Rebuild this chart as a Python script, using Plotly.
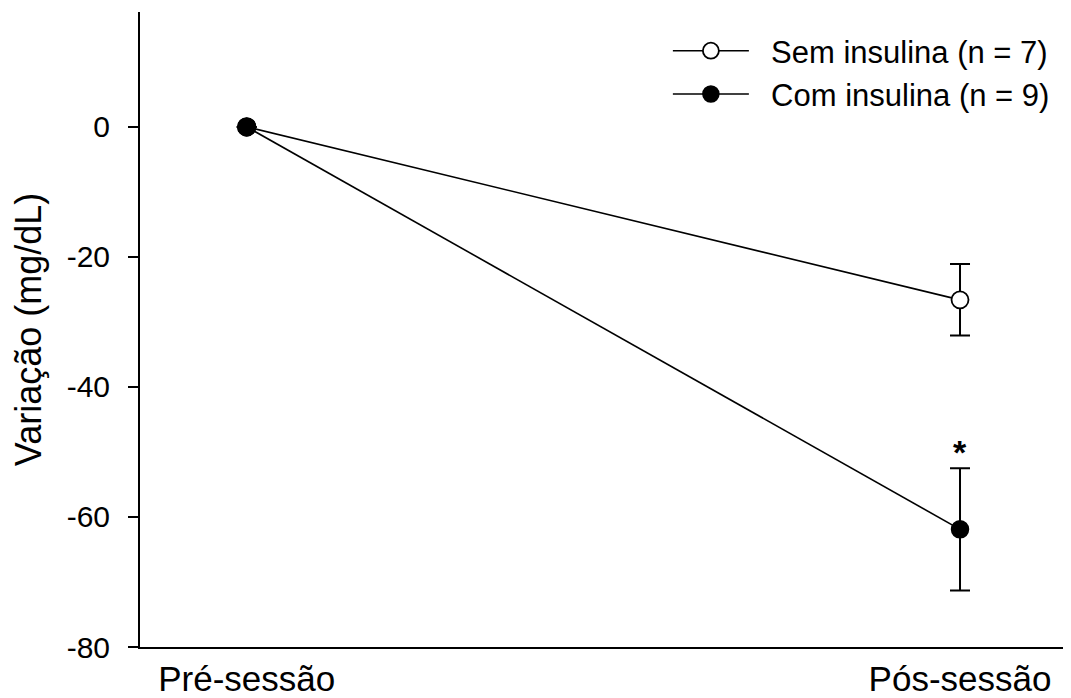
import plotly.graph_objects as go

categories = ["Pré-sessão", "Pós-sessão"]
x_pos = [0, 1]
sem_insulina = [0, -26.6]
sem_insulina_err = [0, 5.5]
com_insulina = [0, -61.9]
com_insulina_err = [0, 9.4]
y_ticks = [-80, -60, -40, -20, 0]
names = ["Sem insulina (n = 7)", "Com insulina (n = 9)"]

FONT = "Arial, Liberation Sans, sans-serif"
NB = "\u00a0\u00a0"

fig = go.Figure()
fig.add_trace(go.Scatter(
    x=x_pos, y=com_insulina, name=NB + names[1], mode="lines+markers",
    line=dict(color="black", width=1.6),
    marker=dict(symbol="circle", size=17, color="black", line=dict(color="black", width=1.5)),
    error_y=dict(type="data", array=com_insulina_err, visible=True, color="black", thickness=2, width=10),
))
fig.add_trace(go.Scatter(
    x=x_pos, y=sem_insulina, name=NB + names[0], mode="lines+markers",
    line=dict(color="black", width=1.6),
    marker=dict(symbol="circle", size=17, color="white", line=dict(color="black", width=1.8)),
    error_y=dict(type="data", array=sem_insulina_err, visible=True, color="black", thickness=2, width=10),
))
# shared starting point drawn filled on top
fig.add_trace(go.Scatter(
    x=[x_pos[0]], y=[com_insulina[0]], mode="markers", showlegend=False,
    marker=dict(symbol="circle", size=18, color="black", line=dict(color="black", width=1.5)),
))

fig.add_annotation(
    x=x_pos[1], y=com_insulina[1] + com_insulina_err[1], yshift=16, text="<b>*</b>",
    showarrow=False, font=dict(family=FONT, size=34, color="black"),
)

fig.update_layout(
    width=1063, height=690,
    paper_bgcolor="white", plot_bgcolor="white",
    margin=dict(l=132, r=0, t=4, b=41),
    font=dict(family=FONT, color="black"),
    showlegend=True,
    legend=dict(
        x=0.567, y=0.981, xanchor="left", yanchor="top",
        font=dict(family=FONT, size=31, color="black"),
        traceorder="reversed", bgcolor="rgba(0,0,0,0)",
        itemwidth=76, tracegroupgap=0,
    ),
    xaxis=dict(
        range=[-0.1496, 1.1556], tickvals=x_pos, ticktext=categories,
        showline=True, linecolor="black", linewidth=2, showgrid=False, zeroline=False,
        ticks="", tickfont=dict(family=FONT, size=35, color="black"),
    ),
    yaxis=dict(
        range=[-80, 17.68], tickvals=y_ticks, ticktext=[str(v) for v in y_ticks],
        showline=True, linecolor="black", linewidth=2, showgrid=False, zeroline=False,
        ticks="outside", ticklen=10, tickwidth=2, tickcolor="black",
        ticklabelstandoff=12,
        tickfont=dict(family=FONT, size=30, color="black"),
        title=dict(text="Variação (mg/dL)", font=dict(family=FONT, size=36, color="black"), standoff=20),
    ),
)

fig.write_html("out.html")
